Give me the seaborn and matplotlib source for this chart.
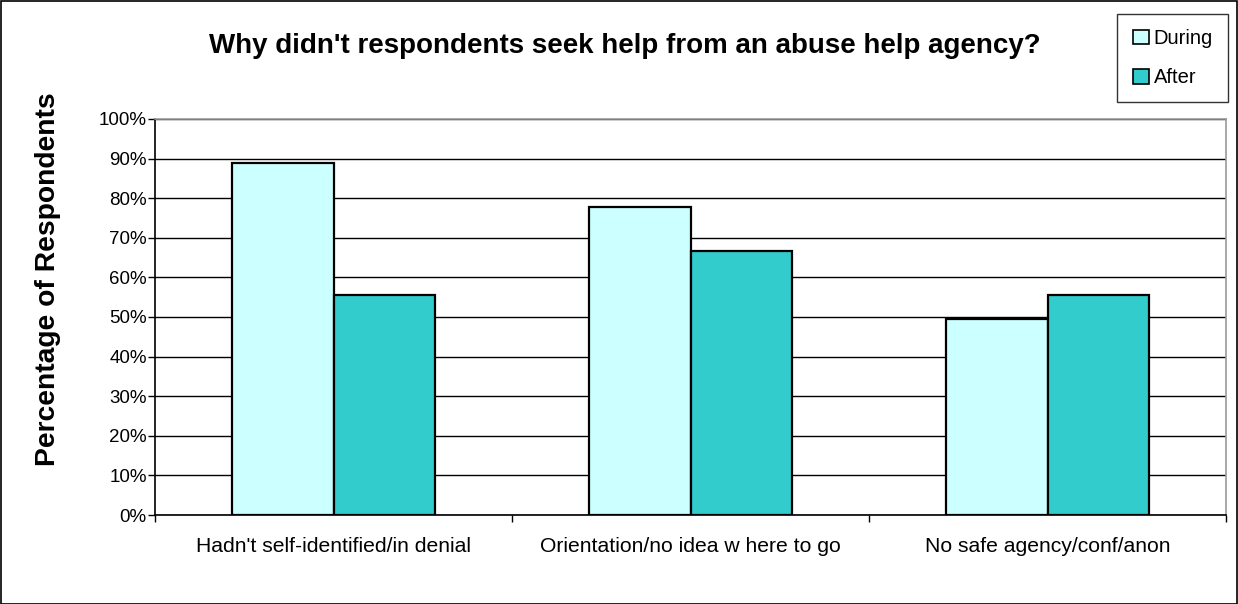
import matplotlib
matplotlib.use("Agg")
import matplotlib.pyplot as plt
import seaborn as sns
import pandas as pd
from matplotlib.patches import Patch, Rectangle
from matplotlib.ticker import FixedLocator, PercentFormatter

categories = ["Hadn't self-identified/in denial", "Orientation/no idea w here to go", "No safe agency/conf/anon"]
series_names = ["During", "After"]
during = [88.9, 77.8, 49.5]
after = [55.6, 66.7, 55.6]
colors = ["#CCFFFF", "#33CCCC"]

df = pd.DataFrame({
    "Category": categories * 2,
    "Period": [series_names[0]] * 3 + [series_names[1]] * 3,
    "Value": during + after,
})

sns.set_style("white")
plt.rcParams["font.family"] = ["Liberation Sans", "DejaVu Sans"]
plt.rcParams["text.color"] = "black"
plt.rcParams["axes.labelcolor"] = "black"
plt.rcParams["xtick.color"] = "black"
plt.rcParams["ytick.color"] = "black"

fig = plt.figure(figsize=(12.38, 6.04), dpi=100)
ax = fig.add_axes([155/1238, 1-515/604, (1226-155)/1238, (515-119)/604])

sns.barplot(data=df, x="Category", y="Value", hue="Period", palette=colors,
            saturation=1, width=0.57, edgecolor="black", linewidth=1.6, ax=ax,
            legend=False, zorder=3)

ax.set_ylim(0, 100)
ax.set_xlim(-0.5, 2.5)
ax.set_yticks(range(0, 101, 10))
ax.yaxis.set_major_formatter(PercentFormatter(decimals=0))
ax.yaxis.grid(True, color="black", linewidth=1, zorder=0)
ax.set_axisbelow(True)
ax.tick_params(axis="y", labelsize=13.5, length=5, width=1, direction="out", left=True, pad=1)
ax.tick_params(axis="x", which="major", labelsize=15.2, length=0, pad=16)
ax.xaxis.set_minor_locator(FixedLocator([-0.5, 0.5, 1.5, 2.5]))
ax.tick_params(axis="x", which="minor", length=5, width=1, direction="out", bottom=True)

for s in ["left", "bottom"]:
    ax.spines[s].set_color("black")
    ax.spines[s].set_linewidth(1.2)
for s in ["top", "right"]:
    ax.spines[s].set_color("#999999")
    ax.spines[s].set_linewidth(1.2)

ax.set_xlabel("")
ax.set_ylabel("Percentage of Respondents", fontsize=20.3, fontweight="bold")
ax.yaxis.set_label_coords((61-155)/1071, (515-279)/396)

fig.text(625/1238, 1-46/604, "Why didn't respondents seek help from an abuse help agency?",
         ha="center", va="center", fontsize=20, fontweight="bold")

handles = [Patch(facecolor=c, edgecolor="black", linewidth=1.2, label=n)
           for c, n in zip(colors, series_names)]
leg = fig.legend(handles=handles, loc="upper right",
                 bbox_to_anchor=(1228/1238, 1-14/604), fontsize=14.5,
                 frameon=True, fancybox=False, edgecolor="black",
                 handlelength=0.8, handleheight=0.75, handletextpad=0.25,
                 labelspacing=1.0, borderpad=0.75, borderaxespad=0)
leg.get_frame().set_linewidth(1)

fig.patches.append(Rectangle((0.5/1238, 0.5/604), 1-1.5/1238, 1-1.5/604,
                             transform=fig.transFigure, fill=False,
                             edgecolor="black", linewidth=1.2))

fig.savefig("out.png", dpi=100)
